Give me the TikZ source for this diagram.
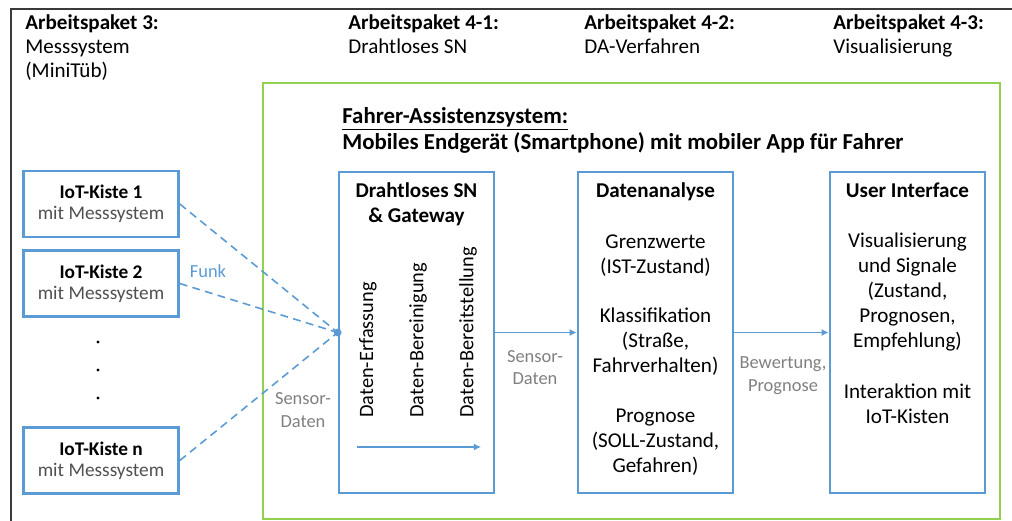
\documentclass[tikz,border=0pt]{standalone}
\usepackage{fontspec}
\setmainfont{Carlito}
\usepackage{xcolor}
\usepackage{tikz}
\usetikzlibrary{positioning,arrows.meta}
\definecolor{boxblue}{HTML}{5B9BD5}
\definecolor{appgreen}{HTML}{92D050}
\definecolor{frame}{HTML}{3A3A3A}
\definecolor{muted}{HTML}{808080}
\definecolor{subtext}{HTML}{505050}
\newcommand{\boxfont}{\fontsize{12}{14.2}\selectfont}
\tikzset{
  outer/.style={draw=frame, line width=1.1pt},
  app/.style={draw=appgreen, line width=1.4pt},
  kiste/.style={draw=boxblue, line width=1.5pt, minimum width=3.1cm, minimum height=1.32cm,
    align=center, font=\fontsize{11}{12}\selectfont},
  stage/.style={draw=boxblue, line width=1.5pt, minimum width=3.1cm, minimum height=6.42cm},
  funk/.style={draw=boxblue, dashed, dash pattern=on 4.5pt off 3pt, line width=0.9pt},
  flow/.style={draw=boxblue, line width=0.9pt, -{Latex[length=4pt,width=4pt]}},
  head/.style={anchor=north west, align=left, inner sep=0pt, font=\fontsize{12}{13.7}\selectfont},
  body/.style={anchor=north, align=center, inner sep=0pt, font=\boxfont},
  rot/.style={rotate=90, anchor=west, inner sep=0pt, font=\fontsize{11.6}{13}\selectfont},
  note/.style={text=muted, align=center, inner sep=0pt, font=\fontsize{10.5}{13}\selectfont},
}

\begin{document}
\begin{tikzpicture}[x=0.02cm, y=-0.02cm]
  \useasboundingbox (0,0) rectangle (1012,521);
  \clip (0,0) rectangle (1012,521);

  % frames
  \draw[outer] (11,540) -- (11,9) -- (1030,9);
  \draw[app] (263,83) rectangle (1000,519);

  % work packages
  \node[head] (ap3) at (25,14) {\textbf{Arbeitspaket 3:}\\Messsystem\\(MiniTüb)};
  \node[head] (ap41) at (348,14) {\textbf{Arbeitspaket 4-1:}\\Drahtloses SN};
  \node[head] (ap42) at (584,14) {\textbf{Arbeitspaket 4-2:}\\DA-Verfahren};
  \node[head] (ap43) at (833,14) {\textbf{Arbeitspaket 4-3:}\\Visualisierung};

  \node[head, font=\fontsize{13}{14.8}\selectfont\bfseries] (title) at (342,107)
    {\underline{Fahrer-Assistenzsystem:}\\Mobiles Endgerät (Smartphone) mit mobiler App für Fahrer};

  % IoT boxes
  \node[kiste] (k1) at (101,204) {\textbf{IoT-Kiste 1}\\\textcolor{subtext}{mit Messsystem}};
  \node[kiste] (k2) at (101,283.5) {\textbf{IoT-Kiste 2}\\\textcolor{subtext}{mit Messsystem}};
  \node[kiste] (kn) at (101,460.5) {\textbf{IoT-Kiste n}\\\textcolor{subtext}{mit Messsystem}};
  \foreach \y in {342,370,398}
    \fill (98,\y) circle (0.9pt);

  % stages
  \node[stage] (dsn) at (416.5,332.5) {};
  \node[stage] (da) at (655.5,332.5) {};
  \node[stage] (ui) at (907.5,332.5) {};

  \node[body, font=\boxfont\bfseries] (dsnhead) at (416.5,182) {Drahtloses SN\\\& Gateway};
  \node[rot] (erf) at (368,418) {Daten-Erfassung};
  \node[rot] (ber) at (418,418) {Daten-Bereinigung};
  \node[rot] (bst) at (468,418) {Daten-Bereitstellung};
  \coordinate (fa) at (357,447);
  \coordinate (fb) at (481,447);
  \draw[flow] (fa) -- (fb);

  \node[body] (dabody) at (655.5,182) {\textbf{Datenanalyse}\\[14.8pt]
    Grenzwerte\\(IST-Zustand)\\[14.2pt]
    Klassifikation\\(Straße,\\Fahrverhalten)\\[14.2pt]
    Prognose\\(SOLL-Zustand,\\Gefahren)};

  \node[body] (uibody) at (907.5,182) {\textbf{User Interface}\\[14.8pt]
    Visualisierung\\und Signale\\(Zustand,\\Prognosen,\\Empfehlung)\\[14.8pt]
    Interaktion mit\\IoT-Kisten};

  % radio links
  \draw[funk] (k1.east) -- (dsn.west);
  \draw[funk] (k2.east) -- (dsn.west);
  \draw[funk] (kn.east) -- (dsn.west);
  \fill[boxblue] (dsn.west) circle (2.2pt);
  \node[text=boxblue, font=\fontsize{10.5}{12}\selectfont] (funklab) at (208,271) {Funk};
  \node[note] (sd1) at (303,410) {Sensor-\\Daten};

  % data flow
  \draw[flow] (dsn.east) -- (da.west);
  \draw[flow] (da.east) -- (ui.west);
  \node[note] (sd2) at (535,367.5) {Sensor-\\Daten};
  \node[note] (bp) at (783,376) {Bewertung,\\Prognose};
\end{tikzpicture}
\end{document}
